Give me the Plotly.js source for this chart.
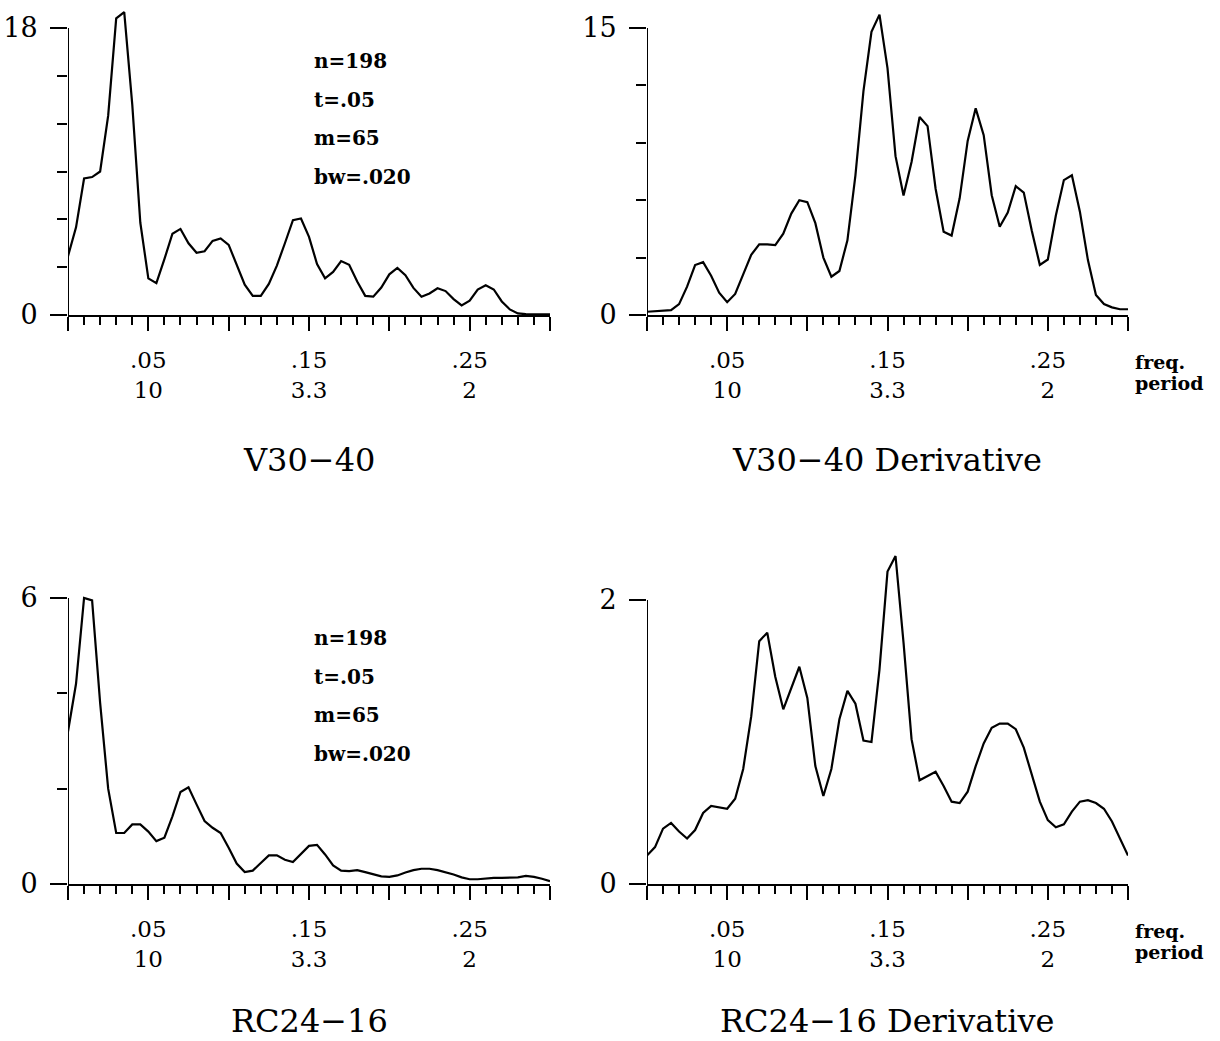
<!DOCTYPE html>
<html>
<head>
<meta charset="utf-8">
<script src="https://cdn.plot.ly/plotly-3.0.1.min.js"></script>
<style>html,body{margin:0;padding:0;background:#fff;}</style>
</head>
<body>
<div id="chart" style="width:1220px;height:1041px;"></div>
<script>
// frequency grid (cycles per unit)
const freq = [0,0.005,0.01,0.015,0.02,0.025,0.03,0.035,0.04,0.045,0.05,0.055,0.06,0.065,0.07,0.075,0.08,0.085,0.09,0.095,
  0.1,0.105,0.11,0.115,0.12,0.125,0.13,0.135,0.14,0.145,0.15,0.155,0.16,0.165,0.17,0.175,0.18,0.185,0.19,0.195,
  0.2,0.205,0.21,0.215,0.22,0.225,0.23,0.235,0.24,0.245,0.25,0.255,0.26,0.265,0.27,0.275,0.28,0.285,0.29,0.295,0.3];

const v3040 = [3.69,5.5,8.56,8.65,9.0,12.5,18.6,19.0,13.2,5.8,2.3,2.0,3.5,5.1,5.4,4.5,3.9,4.0,4.65,4.8,
  4.4,3.1,1.9,1.2,1.2,1.95,3.1,4.5,5.95,6.05,4.9,3.2,2.3,2.7,3.38,3.15,2.1,1.2,1.15,1.72,
  2.55,2.95,2.5,1.7,1.15,1.35,1.68,1.5,1.0,0.6,0.9,1.6,1.87,1.6,0.85,0.35,0.1,0.05,0.04,0.04,0.04];

const v3040d = [0.17,0.19,0.21,0.25,0.57,1.48,2.61,2.76,2.05,1.17,0.67,1.1,2.12,3.15,3.69,3.69,3.65,4.25,5.3,6.0,
  5.9,4.8,3.0,2.0,2.3,3.9,7.3,11.7,14.8,15.7,12.9,8.3,6.25,8.0,10.35,9.87,6.6,4.35,4.15,6.1,
  9.1,10.8,9.4,6.26,4.61,5.35,6.73,6.4,4.4,2.62,2.9,5.2,7.05,7.3,5.4,2.87,1.05,0.57,0.4,0.3,0.3];

const rc2416 = [3.2,4.2,6.0,5.95,3.8,2.0,1.07,1.07,1.25,1.25,1.1,0.9,0.97,1.42,1.93,2.03,1.67,1.32,1.18,1.07,
  0.76,0.43,0.25,0.28,0.44,0.6,0.6,0.51,0.46,0.62,0.8,0.82,0.62,0.39,0.28,0.27,0.29,0.25,0.21,0.16,
  0.15,0.18,0.24,0.29,0.32,0.32,0.29,0.25,0.2,0.14,0.1,0.1,0.12,0.13,0.13,0.13,0.14,0.17,0.15,0.11,0.06];

const rc2416d = [0.20,0.26,0.39,0.43,0.37,0.32,0.38,0.50,0.55,0.54,0.53,0.60,0.81,1.18,1.71,1.77,1.46,1.23,1.38,1.53,
  1.31,0.83,0.62,0.81,1.16,1.36,1.27,1.01,1.00,1.51,2.2,2.31,1.70,1.02,0.73,0.76,0.79,0.69,0.58,0.57,
  0.65,0.83,0.99,1.10,1.13,1.13,1.09,0.96,0.77,0.58,0.45,0.40,0.42,0.51,0.58,0.59,0.57,0.53,0.44,0.32,0.20];

const panelTitles = ["V30\u221240", "V30\u221240 Derivative", "RC24\u221216", "RC24\u221216 Derivative"];
const yTopTick = [18, 15, 6, 2];
const yMinorStep = [3, 3, 2, null];
const xTickVals = [0, 0.05, 0.1, 0.15, 0.2, 0.25, 0.3];
const xTickText = ["", ".05<br>10", "", ".15<br>3.3", "", ".25<br>2", ""];
const statLines = ["n=198", "t=.05", "m=65", "bw=.020"];

const W = 1220, H = 1041;
const px = x => x / W;
const py = y => 1 - y / H;
const serif = "DejaVu Serif, Liberation Serif, serif";

// panel geometry in pixels: left, right, zero line, top of plot area, top tick, title centre
const panels = [
  {l: 68, r: 550, y0: 315, top: 5, tickY: 28, titleY: 460},
  {l: 647, r: 1128, y0: 315, top: 5, tickY: 28, titleY: 460},
  {l: 68, r: 550, y0: 884, top: 545, tickY: 598, titleY: 1021},
  {l: 647, r: 1128, y0: 884, top: 545, tickY: 600, titleY: 1021}
];
const series = [v3040, v3040d, rc2416, rc2416d];

const data = [];
const layout = {
  width: W, height: H,
  margin: {l: 0, r: 0, t: 0, b: 0},
  paper_bgcolor: "#fff", plot_bgcolor: "#fff",
  showlegend: false,
  shapes: [], annotations: []
};

panels.forEach((p, i) => {
  const n = i + 1;
  const xa = n === 1 ? "xaxis" : "xaxis" + n;
  const ya = n === 1 ? "yaxis" : "yaxis" + n;
  const xr = n === 1 ? "x" : "x" + n;
  const yr = n === 1 ? "y" : "y" + n;
  const perUnit = (p.y0 - p.tickY) / yTopTick[i];
  const yMax = (p.y0 - p.top) / perUnit;

  data.push({
    x: freq, y: series[i], type: "scatter", mode: "lines",
    xaxis: xr, yaxis: yr,
    line: {color: "#000", width: 2.2, shape: "linear"},
    hoverinfo: "skip"
  });

  layout[xa] = {
    domain: [px(p.l), px(p.r)],
    anchor: yr,
    range: [0, 0.3],
    showgrid: false, zeroline: false,
    showline: true, linecolor: "#000", linewidth: 2,
    ticks: "outside", ticklen: 14, tickwidth: 2, tickcolor: "#000",
    tickmode: "array", tickvals: xTickVals, ticktext: xTickText,
    ticklabelstandoff: 9,
    tickfont: {family: serif, size: 23, color: "#000"},
    minor: {ticks: "outside", tick0: 0, dtick: 0.01, ticklen: 8, tickwidth: 2, tickcolor: "#000", showgrid: false},
    fixedrange: true
  };

  const yax = {
    domain: [py(p.y0), py(p.top)],
    anchor: xr,
    range: [0, yMax],
    showgrid: false, zeroline: false, showline: false,
    ticks: "outside", ticklen: 17, tickwidth: 2, tickcolor: "#000",
    tickmode: "array", tickvals: [0, yTopTick[i]], ticktext: ["0", String(yTopTick[i])],
    ticklabelstandoff: 7,
    tickfont: {family: serif, size: 27, color: "#000"},
    fixedrange: true
  };
  if (yMinorStep[i]) {
    yax.minor = {ticks: "outside", tick0: 0, dtick: yMinorStep[i], ticklen: 10, tickwidth: 2, tickcolor: "#000", showgrid: false};
  }
  layout[ya] = yax;

  // vertical axis line only up to the top tick
  layout.shapes.push({
    type: "line", xref: xr, yref: yr,
    x0: 0, x1: 0, y0: 0, y1: yTopTick[i],
    line: {color: "#000", width: 2}
  });

  // panel title
  layout.annotations.push({
    text: panelTitles[i], xref: "paper", yref: "paper",
    x: px((p.l + p.r) / 2), y: py(p.titleY),
    xanchor: "center", yanchor: "middle", showarrow: false,
    font: {family: serif, size: 32, color: "#000"}
  });

  // right panels: freq./period labels
  if (i === 1 || i === 3) {
    layout.annotations.push({
      text: "freq.", xref: "paper", yref: "paper",
      x: px(1133), y: py(p.y0 + 47), xanchor: "left", yanchor: "middle", showarrow: false,
      font: {family: serif, size: 19, color: "#000", weight: "bold"}
    });
    layout.annotations.push({
      text: "period", xref: "paper", yref: "paper",
      x: px(1133), y: py(p.y0 + 68), xanchor: "left", yanchor: "middle", showarrow: false,
      font: {family: serif, size: 19, color: "#000", weight: "bold"}
    });
  }

  // left panels: estimation parameters
  if (i === 0 || i === 2) {
    const base = i === 0 ? 61 : 638;
    statLines.forEach((s, j) => {
      layout.annotations.push({
        text: s, xref: "paper", yref: "paper",
        x: px(312), y: py(base + j * 38.7), xanchor: "left", yanchor: "middle", showarrow: false,
        font: {family: serif, size: 20, color: "#000", weight: "bold"}
      });
    });
  }
});

Plotly.newPlot("chart", data, layout, {staticPlot: true, displayModeBar: false});
</script>
</body>
</html>
